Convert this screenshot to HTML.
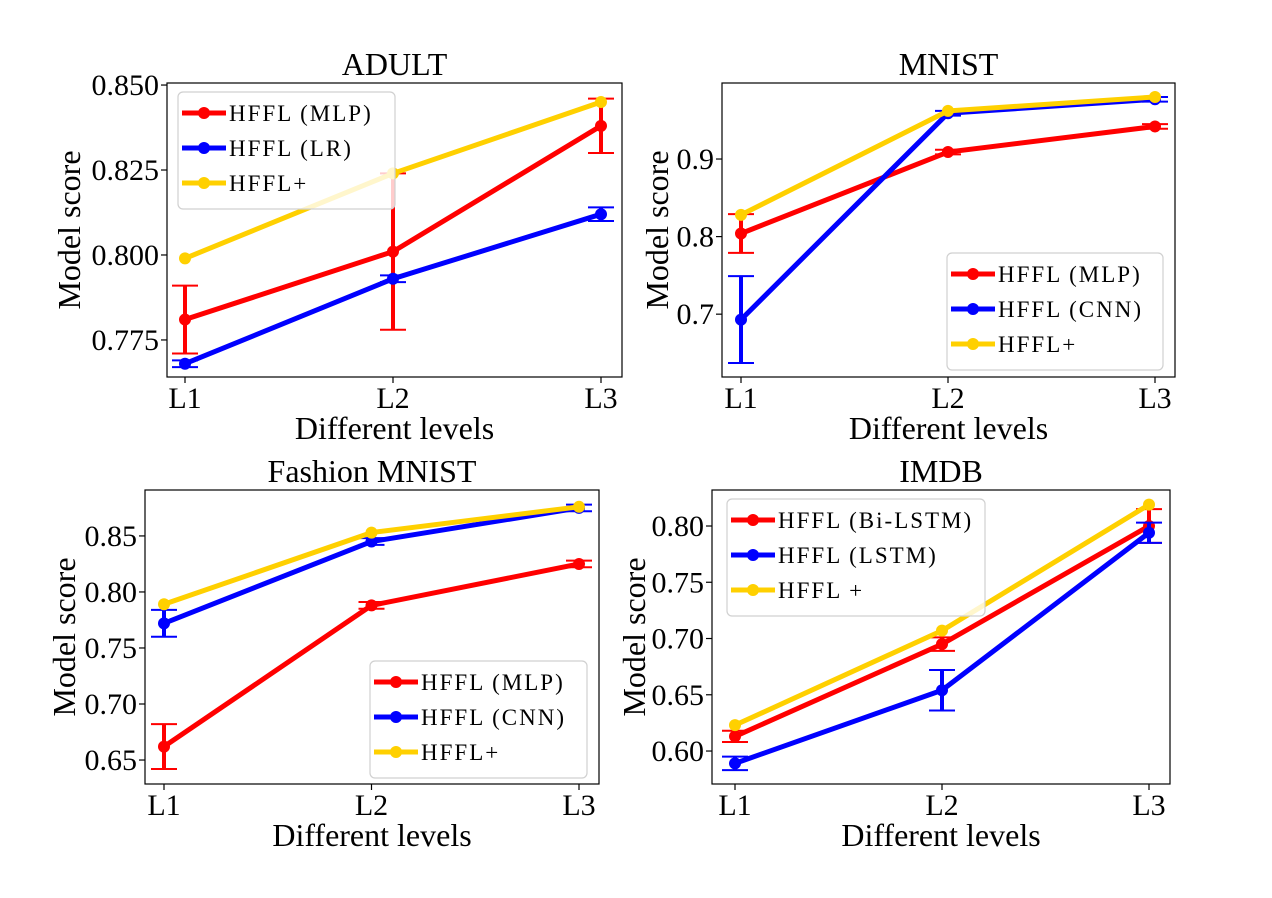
<!DOCTYPE html>
<html><head><meta charset="utf-8">
<style>
html,body{margin:0;padding:0;background:#fff;}
svg{display:block;font-family:"Liberation Serif",serif;}
</style></head>
<body>
<svg id="chart" width="1272" height="898"></svg>
<script>
const levels = ["L1","L2","L3"];
// ADULT
const adultMLP = [0.781, 0.801, 0.838];
const adultMLPErr = [0.010, 0.023, 0.008];
const adultLR = [0.768, 0.793, 0.812];
const adultLRErr = [0.001, 0.001, 0.002];
const adultPlus = [0.799, 0.824, 0.845];
const adultTicks = [0.775, 0.800, 0.825, 0.850];
// MNIST
const mnistMLP = [0.804, 0.909, 0.942];
const mnistMLPErr = [0.025, 0.003, 0.003];
const mnistCNN = [0.693, 0.959, 0.977];
const mnistCNNErr = [0.056, 0.003, 0.003];
const mnistPlus = [0.828, 0.962, 0.980];
const mnistTicks = [0.7, 0.8, 0.9];
// Fashion MNIST
const fashMLP = [0.662, 0.788, 0.825];
const fashMLPErr = [0.020, 0.003, 0.003];
const fashCNN = [0.772, 0.845, 0.875];
const fashCNNErr = [0.012, 0.003, 0.003];
const fashPlus = [0.789, 0.853, 0.876];
const fashTicks = [0.65, 0.70, 0.75, 0.80, 0.85];
// IMDB
const imdbBi = [0.613, 0.695, 0.800];
const imdbBiErr = [0.005, 0.006, 0.015];
const imdbLSTM = [0.589, 0.654, 0.794];
const imdbLSTMErr = [0.006, 0.018, 0.009];
const imdbPlus = [0.623, 0.707, 0.819];
const imdbTicks = [0.60, 0.65, 0.70, 0.75, 0.80];

const NS="http://www.w3.org/2000/svg";
const svg=document.getElementById('chart');
function mk(tag,attrs,parent){const e=document.createElementNS(NS,tag);for(const k in attrs)e.setAttribute(k,attrs[k]);(parent||svg).appendChild(e);return e;}

function panel(cfg){
  const g=mk('g',{});
  
  
  const {x0,x1,y0,y1,ymin,ymax}=cfg;
  const px=i=>cfg.lx0+(cfg.lx1-cfg.lx0)*i/(levels.length-1);
  const py=v=>y1-(v-ymin)/(ymax-ymin)*(y1-y0);
  cfg.ticks.forEach(t=>{
    const y=py(t);
    mk('line',{x1:x0-6,x2:x0,y1:y,y2:y,stroke:'#000','stroke-width':1.2},g);
    const tx=mk('text',{x:x0-8,y:y+10,'text-anchor':'end','font-size':30},g);
    tx.textContent=cfg.fmt(t);
    
    
  });
  levels.forEach((l,i)=>{
    const x=px(i);
    mk('line',{x1:x,x2:x,y1:y1,y2:y1+6,stroke:'#000','stroke-width':1.2},g);
    const tx=mk('text',{x:x,y:y1+31,'text-anchor':'middle','font-size':30},g);
    tx.textContent=l;
    
    
  });
  cfg.series.forEach(s=>{
    const sg=mk('g',{},g);
    
    
    if(s.err){s.vals.forEach((v,i)=>{
      const x=px(i),ya=py(v+s.err[i]),yb=py(v-s.err[i]);
      mk('line',{x1:x,x2:x,y1:ya,y2:yb,stroke:s.color,'stroke-width':4},sg);
      mk('line',{x1:x-13,x2:x+13,y1:ya,y2:ya,stroke:s.color,'stroke-width':2},sg);
      mk('line',{x1:x-13,x2:x+13,y1:yb,y2:yb,stroke:s.color,'stroke-width':2},sg);
    });}
    mk('polyline',{points:s.vals.map((v,i)=>px(i)+','+py(v)).join(' '),fill:'none',stroke:s.color,'stroke-width':5},sg);
    s.vals.forEach((v,i)=>{const c=mk('circle',{cx:px(i),cy:py(v),r:6,fill:s.color},sg);
      
      });
  });
  mk('rect',{x:x0,y:y0,width:x1-x0,height:y1-y0,fill:'none',stroke:'#000','stroke-width':1.2},g);
  const L=cfg.legend;
  const lg=mk('g',{},g);
  
  
  mk('rect',{x:L.x,y:L.y,width:L.w,height:cfg.series.length*35+12,rx:5,fill:'#fff','fill-opacity':0.8,stroke:'#d0d0d0','stroke-width':1.2},lg);
  cfg.series.forEach((s,i)=>{
    const yy=L.y+21+i*35;
    mk('line',{x1:L.x+4,x2:L.x+48,y1:yy,y2:yy,stroke:s.color,'stroke-width':5},lg);
    mk('circle',{cx:L.x+26,cy:yy,r:6,fill:s.color},lg);
    const t=mk('text',{x:L.x+51,y:yy+8,'font-size':23,'letter-spacing':2},lg);
    t.textContent=s.label;
    
    
  });
  const tt=mk('text',{x:(x0+x1)/2,y:y0-8,'text-anchor':'middle','font-size':32},g);
  tt.textContent=cfg.title;
  
  
  const xl=mk('text',{x:(x0+x1)/2,y:y1+62,'text-anchor':'middle','font-size':32},g);
  xl.textContent='Different levels';
  
  
  const yc=(y0+y1)/2, yx=cfg.ylabX;
  const yl=mk('text',{x:yx,y:yc,'text-anchor':'middle','font-size':32,transform:`rotate(-90 ${yx} ${yc})`},g);
  yl.textContent='Model score';
  
  
}
const R='#ff0000',B='#0000ff',Y='#ffd000';
panel({name:'adult',title:'ADULT',x0:167,x1:622,y0:83,y1:377,lx0:185,lx1:601,ymin:0.7641,ymax:0.8506,ticks:adultTicks,fmt:v=>v.toFixed(3),ylabX:80,
  legend:{x:178,y:92,w:217},
  series:[{key:'mlp',label:'HFFL (MLP)',color:R,vals:adultMLP,err:adultMLPErr},{key:'lr',label:'HFFL (LR)',color:B,vals:adultLR,err:adultLRErr},{key:'plus',label:'HFFL+',color:Y,vals:adultPlus}]});
panel({name:'mnist',title:'MNIST',x0:722,x1:1175,y0:83,y1:377,lx0:741,lx1:1155,ymin:0.619,ymax:0.998,ticks:mnistTicks,fmt:v=>v.toFixed(1),ylabX:668,
  legend:{x:947,y:253,w:216},
  series:[{key:'mlp',label:'HFFL (MLP)',color:R,vals:mnistMLP,err:mnistMLPErr},{key:'cnn',label:'HFFL (CNN)',color:B,vals:mnistCNN,err:mnistCNNErr},{key:'plus',label:'HFFL+',color:Y,vals:mnistPlus}]});
panel({name:'fashion',title:'Fashion MNIST',x0:145,x1:599,y0:490,y1:784,lx0:164,lx1:579,ymin:0.6286,ymax:0.891,ticks:fashTicks,fmt:v=>v.toFixed(2),ylabX:75,
  legend:{x:370,y:661,w:217},
  series:[{key:'mlp',label:'HFFL (MLP)',color:R,vals:fashMLP,err:fashMLPErr},{key:'cnn',label:'HFFL (CNN)',color:B,vals:fashCNN,err:fashCNNErr},{key:'plus',label:'HFFL+',color:Y,vals:fashPlus}]});
panel({name:'imdb',title:'IMDB',x0:712,x1:1170,y0:490,y1:784,lx0:735,lx1:1149,ymin:0.5707,ymax:0.832,ticks:imdbTicks,fmt:v=>v.toFixed(2),ylabX:645,
  legend:{x:727,y:499,w:258},
  series:[{key:'bilstm',label:'HFFL (Bi-LSTM)',color:R,vals:imdbBi,err:imdbBiErr},{key:'lstm',label:'HFFL (LSTM)',color:B,vals:imdbLSTM,err:imdbLSTMErr},{key:'plus',label:'HFFL +',color:Y,vals:imdbPlus}]});
</script>
</body></html>
